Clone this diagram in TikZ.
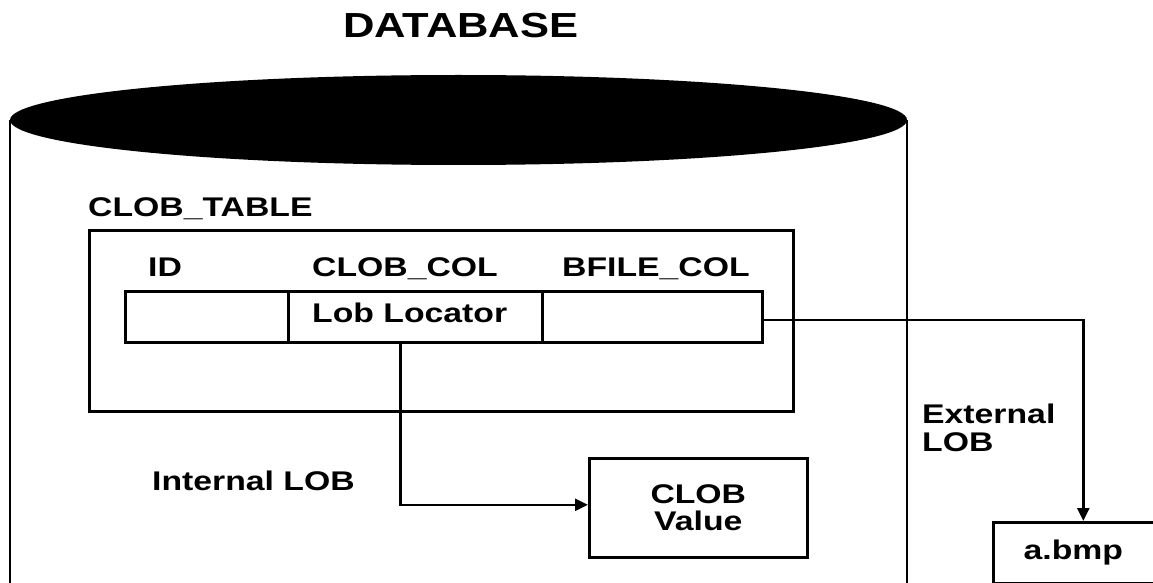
\documentclass[tikz,border=0pt]{standalone}
\usepackage{fontspec}
\setmainfont{Liberation Sans}
\usetikzlibrary{arrows.meta}
\newcommand{\wide}[1]{\scalebox{1.25}[1]{#1}}
\tikzset{
  lbl/.style={inner sep=0pt, anchor=base west, font=\bfseries\fontsize{27bp}{32bp}\selectfont},
  ttl/.style={inner sep=0pt, anchor=base west, font=\bfseries\fontsize{34.8bp}{40bp}\selectfont},
  box/.style={draw, line width=2.6bp, inner sep=0pt, anchor=north west,
              font=\bfseries\fontsize{27bp}{29bp}\selectfont, align=center},
  arr/.style={line width=2.6bp, -{Triangle[length=13bp,width=12bp]}},
  wall/.style={line width=2.6bp}
}
\begin{document}
\begin{tikzpicture}[x=1bp,y=-1bp]
  \clip (0,0) rectangle (1153,583);
  \fill[white] (0,0) rectangle (1153,583);

  % database cylinder: filled top and open sides
  \node[ttl] (dbtitle) at (343,38) {\wide{DATABASE}};
  \draw[wall] (10,120) -- (10,600);
  \draw[wall] (907,120) -- (907,600);
  \fill (458.5,120) ellipse [x radius=448.5, y radius=45];

  % table
  \node[lbl] (tblname) at (88,217) {\wide{CLOB\_TABLE}};
  \node[box, minimum width=704bp, minimum height=181bp] (tbl) at (88,229) {};
  \node[lbl] (hid) at (148,277) {\wide{ID}};
  \node[lbl] (hclob) at (312,277) {\wide{CLOB\_COL}};
  \node[lbl] (hbfile) at (562,277) {\wide{BFILE\_COL}};
  \node[box, minimum width=163bp, minimum height=51bp] (idcell) at (124,290) {};
  \node[box, minimum width=254bp, minimum height=51bp] (loccell) at (287,290) {};
  \node[box, minimum width=220bp, minimum height=51bp] (bfcell) at (541,290) {};
  \node[lbl] (loctext) at (312,323) {\wide{Lob Locator}};

  % internal LOB value
  \node[lbl] (intlob) at (152,490) {\wide{Internal LOB}};
  \node[box, minimum width=218bp, minimum height=99bp] (clobval) at (588,457)
    {\wide{CLOB}\\[-2bp]\wide{Value}};
  \draw[arr] ([xshift=-15bp]loccell.south) |- ([yshift=3bp]clobval.west);

  % external LOB file
  \node[lbl, align=left, anchor=north west] (extlob) at (922,404)
    {\wide{External}\\[-4bp]\wide{LOB}};
  \node[box, minimum width=180bp, minimum height=61bp] (abmp) at (992,521)
    {\wide{a.bmp}\hspace*{20bp}};
  \draw[arr] ([yshift=-3bp]bfcell.east) -| (abmp.north);
\end{tikzpicture}
\end{document}
